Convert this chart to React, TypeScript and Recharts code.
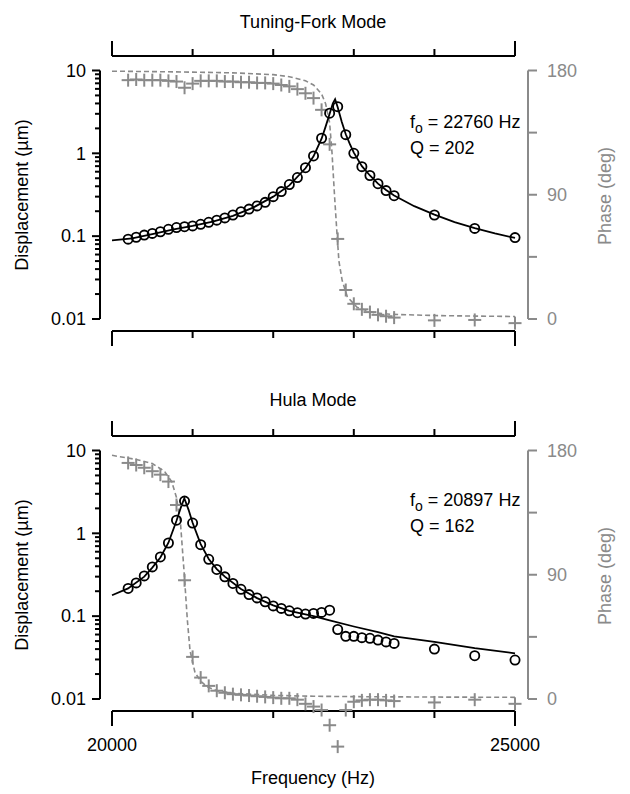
import React from 'react';
import { ComposedChart, XAxis, YAxis, Scatter, Line, ReferenceLine } from 'recharts';

const FONT = '"Liberation Sans", Arial, Helvetica, sans-serif';
const GRAY = '#8a8a8a';

// axis ranges (data units)
const X_MIN = 19851;
const X_MAX = 25161;
const AMP_MIN = 0.00716;
const AMP_MAX = 14.96;
const PH_MIN = -8.7;
const PH_MAX = 190.5;

const FREQ_TICKS = [20000, 21000, 22000, 23000, 24000, 25000];
const FREQ_LABELS = [20000, 25000];
const AMP_TICKS = [
  0.01, 0.02, 0.03, 0.04, 0.05, 0.06, 0.07, 0.08, 0.09,
  0.1, 0.2, 0.3, 0.4, 0.5, 0.6, 0.7, 0.8, 0.9,
  1, 2, 3, 4, 5, 6, 7, 8, 9, 10,
];
const AMP_LABELS = [0.01, 0.1, 1, 10];
const PHASE_TICKS = [0, 45, 90, 135, 180];
const PHASE_LABELS = [0, 90, 180];

// measured frequencies (Hz), shared by both modes
const measFreq = [
  20200, 20300, 20400, 20500, 20600, 20700, 20800, 20900, 21000, 21100,
  21200, 21300, 21400, 21500, 21600, 21700, 21800, 21900, 22000, 22100,
  22200, 22300, 22400, 22500, 22600, 22700, 22800, 22900, 23000, 23100,
  23200, 23300, 23400, 23500, 24000, 24500, 25000,
];

// Tuning-fork mode
const tfAmp = [
  0.092, 0.097, 0.103, 0.108, 0.113, 0.121, 0.127, 0.130, 0.133, 0.139,
  0.147, 0.156, 0.166, 0.180, 0.197, 0.212, 0.232, 0.256, 0.300, 0.345,
  0.420, 0.510, 0.670, 0.930, 1.52, 3.05, 3.66, 1.68, 1.00, 0.69,
  0.54, 0.43, 0.355, 0.308, 0.180, 0.124, 0.096,
];
const tfPhase = [
  173, 173.5, 173, 173, 173, 172.5, 172, 167.5, 170.5, 172.5,
  172.5, 172.5, 172, 172, 171.5, 171.5, 171, 171, 170.5, 169.5,
  168.5, 166.5, 163.5, 160, 151.5, 126.5, 58, 21, 11, 7,
  5, 3, 2, 1, -1, -0.7, -3,
];
const tfFitFreq = [
  20000, 20250, 20500, 20750, 21000, 21250, 21500, 21750, 22000, 22200,
  22400, 22500, 22600, 22650, 22700, 22740, 22768, 22800, 22850, 22900,
  22950, 23000, 23100, 23200, 23300, 23400, 23500, 23750, 24000, 24250,
  24500, 24750, 25000,
];
const tfFitAmp = [
  0.089, 0.094, 0.106, 0.120, 0.133, 0.150, 0.176, 0.221, 0.300, 0.41,
  0.66, 0.92, 1.5, 2.1, 3.0, 4.0, 4.5, 3.6, 2.4, 1.7,
  1.3, 1.02, 0.70, 0.54, 0.43, 0.36, 0.31, 0.23, 0.182, 0.148,
  0.125, 0.108, 0.095,
];
const tfPhaseFitFreq = [
  20000, 20500, 21000, 21500, 22000, 22200, 22400, 22500, 22600, 22650,
  22700, 22730, 22760, 22790, 22815, 22855, 22920, 23040, 23170, 23250,
  23460, 24000, 24500, 25000,
];
const tfPhaseFit = [
  179.5, 179.2, 178.8, 178.3, 177, 175.5, 172.5, 169.5, 163, 156,
  142, 120, 90, 63, 42, 28, 16, 8.5, 5.8, 4.6,
  3.4, 2.5, 2.1, 1.8,
];

// Hula mode
const hulaAmp = [
  0.216, 0.252, 0.306, 0.393, 0.518, 0.764, 1.44, 2.45, 1.33, 0.73,
  0.486, 0.366, 0.298, 0.248, 0.211, 0.182, 0.166, 0.149, 0.133, 0.124,
  0.116, 0.110, 0.106, 0.108, 0.111, 0.118, 0.069, 0.057, 0.057, 0.055,
  0.054, 0.0514, 0.0489, 0.0469, 0.040, 0.0333, 0.0295,
];
const hulaPhase = [
  171, 169.5, 167.5, 165, 162.5, 157.5, 140.5, 86, 30.5, 15.5,
  9.5, 6, 4.5, 3.5, 3, 2.5, 2, 1.5, 1, 0.5,
  0.5, -0.5, -3.5, -5.5, -8, -19, -34.5, -8, -2, -1,
  -0.5, -0.5, -1, -1.5, -2.5, -0.5, -3.5,
];
const hulaFitFreq = [
  20000, 20200, 20400, 20500, 20600, 20700, 20800, 20850, 20897, 20950,
  21000, 21100, 21200, 21300, 21400, 21600, 21800, 22000, 22200, 22500,
  22700, 23000, 23300, 23500, 24000, 24500, 25000,
];
const hulaFitAmp = [
  0.179, 0.216, 0.300, 0.385, 0.51, 0.77, 1.42, 2.0, 2.65, 1.92,
  1.34, 0.74, 0.49, 0.37, 0.30, 0.213, 0.165, 0.135, 0.116, 0.100,
  0.089, 0.075, 0.064, 0.057, 0.049, 0.041, 0.0356,
];
const hulaPhaseFitFreq = [
  20000, 20300, 20500, 20650, 20740, 20800, 20850, 20897, 20935, 20968,
  21030, 21100, 21175, 21300, 21500, 22000, 22500, 23000, 24000, 25000,
];
const hulaPhaseFit = [
  176.5, 173.5, 170.5, 165, 157.5, 146, 127, 90, 57, 35,
  19, 13, 9, 6, 4.2, 2.6, 2, 1.7, 1.4, 1.2,
];

const zip = (fs: number[], vs: number[]) => fs.map((f, i) => ({ f, v: vs[i] }));

const isMajor = (v: number) => {
  const l = Math.log10(v);
  return Math.abs(l - Math.round(l)) < 1e-6;
};

const LeftTick = (props: any) => {
  const { x, y, payload } = props;
  const v = payload.value;
  const major = isMajor(v);
  const len = major ? 8 : 5;
  return (
    <g>
      <line x1={x - len} y1={y} x2={x} y2={y} stroke="#000" strokeWidth={2} />
      {AMP_LABELS.includes(v) && (
        <text x={x - 14} y={y} dy="0.35em" textAnchor="end" fontSize={18} fontFamily={FONT} fill="#000">
          {String(v)}
        </text>
      )}
    </g>
  );
};

const RightTick = (props: any) => {
  const { x, y, payload } = props;
  const v = payload.value;
  return (
    <g>
      <line x1={x} y1={y} x2={x + 9} y2={y} stroke={GRAY} strokeWidth={2} />
      {PHASE_LABELS.includes(v) && (
        <text x={x + 19} y={y} dy="0.35em" textAnchor="start" fontSize={18} fontFamily={FONT} fill={GRAY}>
          {String(v)}
        </text>
      )}
    </g>
  );
};

const TopTick = (props: any) => {
  const { x, y, payload } = props;
  const v = payload.value;
  const end = v === FREQ_TICKS[0] || v === FREQ_TICKS[FREQ_TICKS.length - 1];
  return <line x1={x} y1={y} x2={x} y2={y - (end ? 15 : 7)} stroke="#000" strokeWidth={2} />;
};

const makeBottomTick = (labels: boolean) => (props: any) => {
  const { x, y, payload } = props;
  const v = payload.value;
  const end = v === FREQ_TICKS[0] || v === FREQ_TICKS[FREQ_TICKS.length - 1];
  return (
    <g>
      <line x1={x} y1={y} x2={x} y2={y + (end ? 15 : 7)} stroke="#000" strokeWidth={2} />
      {labels && FREQ_LABELS.includes(v) && (
        <text x={x} y={y + 40} textAnchor="middle" fontSize={18} fontFamily={FONT} fill="#000">
          {String(v)}
        </text>
      )}
    </g>
  );
};

const circleShape = (p: any) => (
  <circle cx={p.cx} cy={p.cy} r={4.6} fill="none" stroke="#000" strokeWidth={1.8} />
);
const crossShape = (p: any) => (
  <g>
    <line x1={p.cx - 6.5} y1={p.cy} x2={p.cx + 6.5} y2={p.cy} stroke={GRAY} strokeWidth={2} />
    <line x1={p.cx} y1={p.cy - 6.5} x2={p.cx} y2={p.cy + 6.5} stroke={GRAY} strokeWidth={2} />
  </g>
);

type PanelProps = {
  height: number;
  amp: number[];
  phase: number[];
  fitFreq: number[];
  fitAmp: number[];
  phFitFreq: number[];
  phFit: number[];
  labels: boolean;
};

const Panel = ({ height, amp, phase, fitFreq, fitAmp, phFitFreq, phFit, labels }: PanelProps) => (
  <ComposedChart
    width={630}
    height={height}
    margin={{ top: 55, left: 99, right: 101, bottom: height - 331 - 1 }}
    style={{ fontFamily: FONT }}
  >
    <XAxis
      xAxisId="b"
      type="number"
      dataKey="f"
      orientation="bottom"
      domain={[X_MIN, X_MAX]}
      allowDataOverflow
      ticks={FREQ_TICKS}
      interval={0}
      height={1}
      tickSize={0}
      tickMargin={0}
      axisLine={false}
      tickLine={false}
      tick={makeBottomTick(labels)}
    />
    <XAxis
      xAxisId="t"
      type="number"
      dataKey="f"
      orientation="top"
      domain={[X_MIN, X_MAX]}
      allowDataOverflow
      ticks={FREQ_TICKS}
      interval={0}
      height={1}
      tickSize={0}
      tickMargin={0}
      axisLine={false}
      tickLine={false}
      tick={TopTick}
    />
    <YAxis
      yAxisId="l"
      type="number"
      scale="log"
      orientation="left"
      domain={[AMP_MIN, AMP_MAX]}
      allowDataOverflow
      ticks={AMP_TICKS}
      interval={0}
      width={1}
      tickSize={0}
      tickMargin={0}
      axisLine={false}
      tickLine={false}
      tick={LeftTick}
    />
    <YAxis
      yAxisId="p"
      type="number"
      orientation="right"
      domain={[PH_MIN, PH_MAX]}
      allowDataOverflow
      ticks={PHASE_TICKS}
      interval={0}
      width={1}
      tickSize={0}
      tickMargin={0}
      axisLine={false}
      tickLine={false}
      tick={RightTick}
    />

    <ReferenceLine xAxisId="b" yAxisId="l" ifOverflow="visible" stroke="#000" strokeWidth={2}
      segment={[{ x: FREQ_TICKS[0], y: AMP_MAX }, { x: FREQ_TICKS[5], y: AMP_MAX }]} />
    <ReferenceLine xAxisId="b" yAxisId="l" ifOverflow="visible" stroke="#000" strokeWidth={2}
      segment={[{ x: FREQ_TICKS[0], y: AMP_MIN }, { x: FREQ_TICKS[5], y: AMP_MIN }]} />
    <ReferenceLine xAxisId="b" yAxisId="l" ifOverflow="visible" stroke="#000" strokeWidth={2}
      segment={[{ x: X_MIN, y: AMP_LABELS[0] }, { x: X_MIN, y: AMP_LABELS[3] }]} />
    <ReferenceLine xAxisId="b" yAxisId="p" ifOverflow="visible" stroke={GRAY} strokeWidth={2}
      segment={[{ x: X_MAX, y: PHASE_TICKS[0] }, { x: X_MAX, y: PHASE_TICKS[4] }]} />

    <Line
      data={zip(phFitFreq, phFit)}
      xAxisId="b"
      yAxisId="p"
      dataKey="v"
      type="linear"
      stroke={GRAY}
      strokeWidth={1.6}
      strokeDasharray="5 3"
      dot={false}
      activeDot={false}
      isAnimationActive={false}
    />
    <Scatter
      className="ph-cross"
      data={zip(measFreq, phase)}
      xAxisId="b"
      yAxisId="p"
      dataKey="v"
      shape={crossShape}
      isAnimationActive={false}
    />
    <Line
      data={zip(fitFreq, fitAmp)}
      xAxisId="b"
      yAxisId="l"
      dataKey="v"
      type="linear"
      stroke="#000"
      strokeWidth={1.8}
      dot={false}
      activeDot={false}
      isAnimationActive={false}
    />
    <Scatter
      data={zip(measFreq, amp)}
      xAxisId="b"
      yAxisId="l"
      dataKey="v"
      shape={circleShape}
      isAnimationActive={false}
    />
  </ComposedChart>
);

export default function App() {
  return (
    <div style={{ position: 'absolute', left: 0, top: 0, width: 630, height: 794, background: '#fff', fontFamily: FONT }}>
      <style>{'.ph-cross, .ph-cross * { clip-path: none !important; }'}</style>
      <div style={{ position: 'absolute', left: 0, top: 0 }}>
        <Panel height={380} amp={tfAmp} phase={tfPhase} fitFreq={tfFitFreq} fitAmp={tfFitAmp}
          phFitFreq={tfPhaseFitFreq} phFit={tfPhaseFit} labels={false} />
      </div>
      <div style={{ position: 'absolute', left: 0, top: 380 }}>
        <Panel height={414} amp={hulaAmp} phase={hulaPhase} fitFreq={hulaFitFreq} fitAmp={hulaFitAmp}
          phFitFreq={hulaPhaseFitFreq} phFit={hulaPhaseFit} labels={true} />
      </div>
      <svg width={630} height={794} style={{ position: 'absolute', left: 0, top: 0, pointerEvents: 'none' }}>
        <g fontFamily={FONT} fontSize={18}>
          <text x={313} y={27.5} textAnchor="middle" fill="#000">Tuning-Fork Mode</text>
          <text x={313} y={405.5} textAnchor="middle" fill="#000">Hula Mode</text>
          <text x={313} y={784} textAnchor="middle" fill="#000">Frequency (Hz)</text>
          <text transform="translate(22,195) rotate(-90)" dy="0.35em" textAnchor="middle" fill="#000">Displacement (µm)</text>
          <text transform="translate(22,575) rotate(-90)" dy="0.35em" textAnchor="middle" fill="#000">Displacement (µm)</text>
          <text transform="translate(605,196) rotate(-90)" dy="0.35em" textAnchor="middle" fill={GRAY}>Phase (deg)</text>
          <text transform="translate(605,576) rotate(-90)" dy="0.35em" textAnchor="middle" fill={GRAY}>Phase (deg)</text>
          <text x={410} y={128} fill="#000">
            f<tspan fontSize={14} dy={5}>o</tspan><tspan dy={-5}> = 22760 Hz</tspan>
          </text>
          <text x={410} y={154} fill="#000">Q = 202</text>
          <text x={410} y={506} fill="#000">
            f<tspan fontSize={14} dy={5}>o</tspan><tspan dy={-5}> = 20897 Hz</tspan>
          </text>
          <text x={410} y={532} fill="#000">Q = 162</text>
        </g>
      </svg>
    </div>
  );
}
